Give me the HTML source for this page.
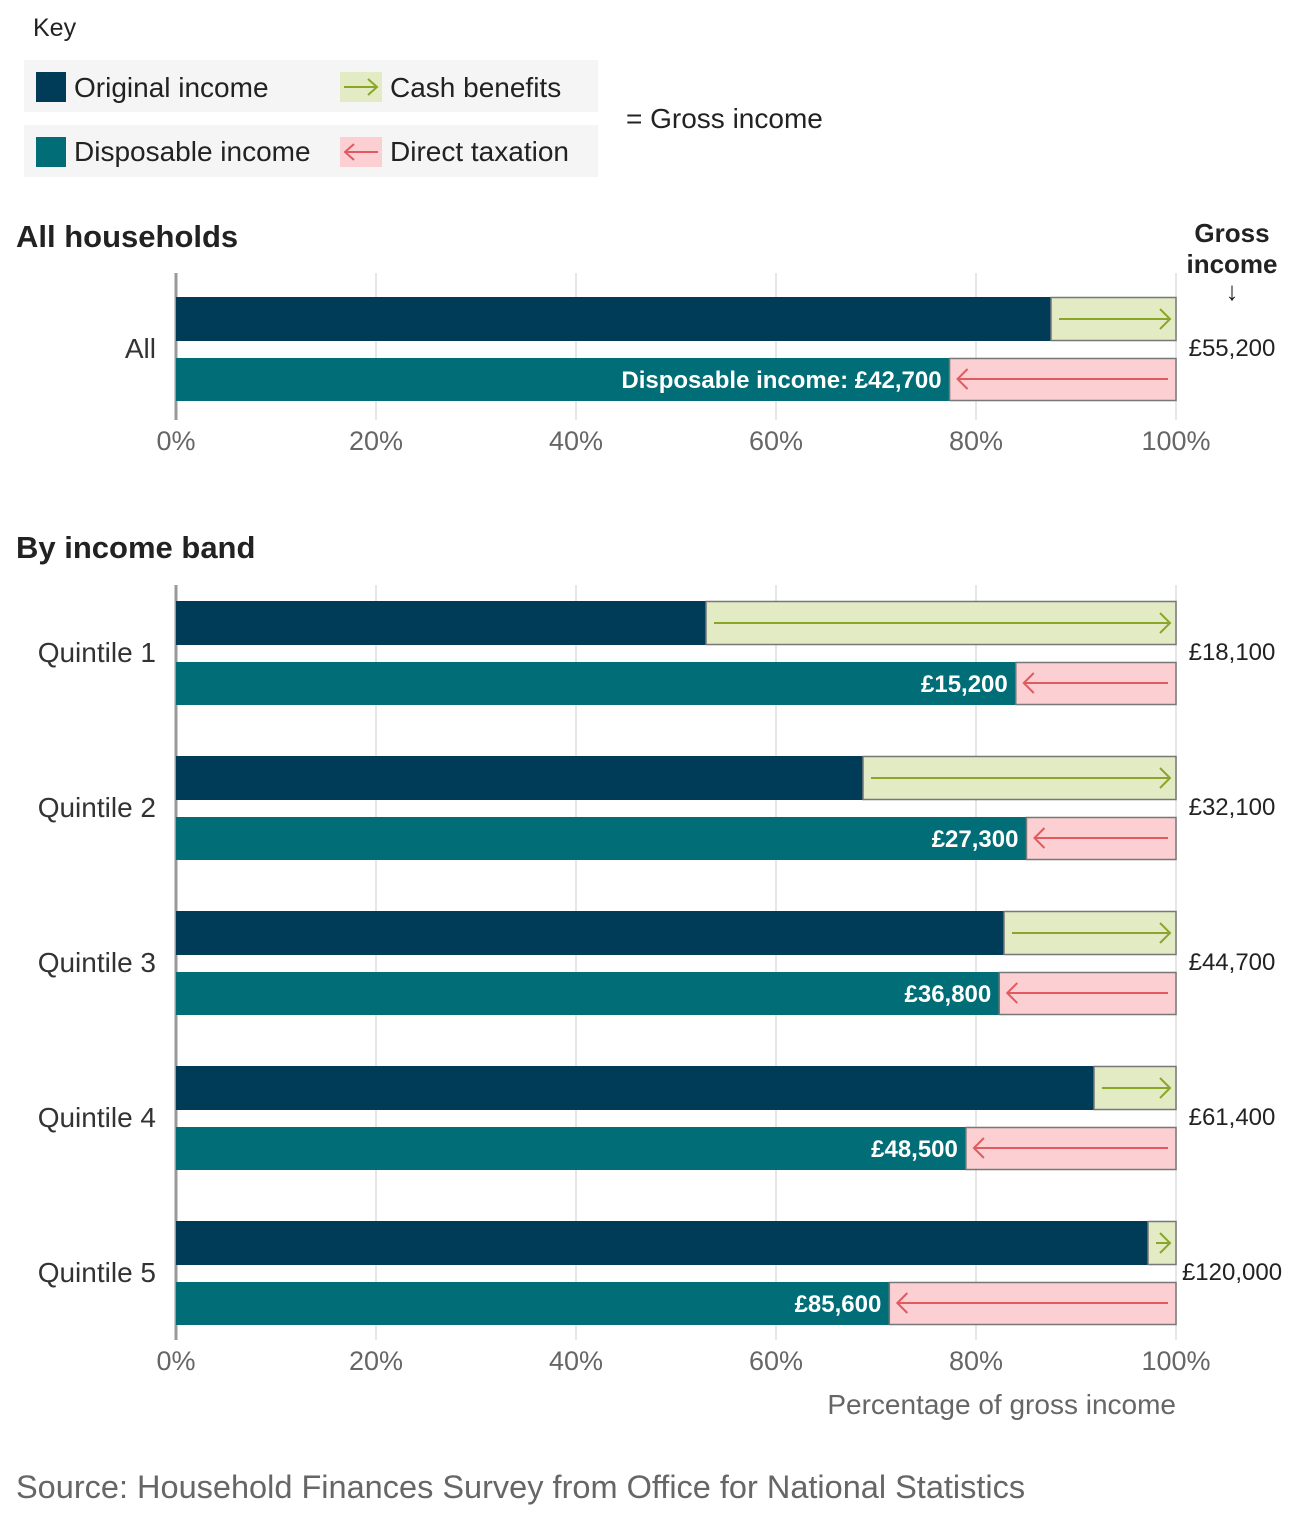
<!DOCTYPE html>
<html><head><meta charset="utf-8"><style>
body{margin:0;background:#fff;font-family:"Liberation Sans","DejaVu Sans",sans-serif;}
svg{display:block}
</style></head><body>
<svg id="chart" width="1312" height="1530" xmlns="http://www.w3.org/2000/svg" font-family="Liberation Sans, DejaVu Sans, sans-serif">
<g>
<text x="33" y="36" font-size="25" fill="#222">Key</text>
<rect x="24" y="60" width="574" height="52" fill="#f5f5f5"/>
<rect x="24" y="125" width="574" height="52" fill="#f5f5f5"/>
<rect x="36" y="72" width="30" height="30" fill="#003c57"/>
<text x="74" y="97" font-size="28" fill="#222">Original income</text>
<rect x="340" y="72" width="42" height="30" fill="#e3ebc5"/>
<line x1="344" y1="87" x2="376" y2="87" stroke="#8aa62a" stroke-width="2"/><polyline points="368,79 377,87 368,95" fill="none" stroke="#8aa62a" stroke-width="2"/>
<text x="390" y="97" font-size="28" fill="#222">Cash benefits</text>
<rect x="36" y="137" width="30" height="30" fill="#006d77"/>
<text x="74" y="161" font-size="28" fill="#222">Disposable income</text>
<rect x="340" y="137" width="42" height="30" fill="#fcd0d2"/>
<line x1="346" y1="152" x2="378" y2="152" stroke="#e05a60" stroke-width="2"/><polyline points="354,144 345,152 354,160" fill="none" stroke="#e05a60" stroke-width="2"/>
<text x="390" y="161" font-size="28" fill="#222">Direct taxation</text>
<text x="626" y="128" font-size="28" fill="#222">= Gross income</text>
</g>
<text x="16" y="247" font-size="31" font-weight="bold" fill="#222">All households</text>
<text x="1232" y="242" font-size="26" font-weight="bold" fill="#222" text-anchor="middle">Gross</text>
<text x="1232" y="273" font-size="26" font-weight="bold" fill="#222" text-anchor="middle">income</text>
<text x="1232" y="300" font-size="26" font-weight="bold" fill="#222" text-anchor="middle">↓</text>
<text x="16" y="558" font-size="31" font-weight="bold" fill="#222">By income band</text>
<g id="topg"></g><g id="bottomg"></g>
<text x="1176" y="1414" font-size="28" fill="#666" text-anchor="end">Percentage of gross income</text>
<text x="16" y="1498" font-size="32.5" fill="#666">Source: Household Finances Survey from Office for National Statistics</text>
</svg>
<script>
const categories=["All","Quintile 1","Quintile 2","Quintile 3","Quintile 4","Quintile 5"];
const originalPct=[87.5,53,68.7,82.8,91.8,97.2];
const disposableVals=[42700,15200,27300,36800,48500,85600];
const grossVals=[55200,18100,32100,44700,61400,120000];
const ticks=[0,20,40,60,80,100];
const NS="http://www.w3.org/2000/svg";
const x0=176,x1=1176;
const xs=p=>x0+(x1-x0)*p/100;
function el(parent,tag,attrs,text){const e=document.createElementNS(NS,tag);for(const k in attrs)e.setAttribute(k,attrs[k]);if(text!==undefined)e.textContent=text;parent.appendChild(e);return e;}
function fmt(v){return "£"+v.toLocaleString("en-GB");}
function axis(g,yTop,yBot,labelY){
 ticks.forEach(t=>{const l=el(g,"line",{x1:xs(t),x2:xs(t),y1:yTop,y2:yBot,stroke:t===0?"#999":"#ddd","stroke-width":t===0?3:1.5});
 
 
 const tx=el(g,"text",{x:xs(t),y:labelY,"font-size":27,fill:"#666","text-anchor":"middle"},t+"%");
 
 });
}
function row(g,i,yo){
 const o=originalPct[i],d=disposableVals[i]/grossVals[i]*100;
 const b1=el(g,"rect",{x:x0,y:yo,width:xs(o)-x0,height:44,fill:"#003c57"});
 
 
 const c=el(g,"rect",{x:xs(o),y:yo+0.5,width:x1-xs(o),height:43,fill:"#e3ebc5",stroke:"#777","stroke-width":1.5});
 
 
 el(g,"line",{x1:xs(o)+8,x2:x1-6,y1:yo+22,y2:yo+22,stroke:"#8aa62a","stroke-width":2});
 el(g,"polyline",{points:`${x1-16},${yo+12} ${x1-6},${yo+22} ${x1-16},${yo+32}`,fill:"none",stroke:"#8aa62a","stroke-width":2});
 const y2=yo+61;
 const b2=el(g,"rect",{x:x0,y:y2,width:xs(d)-x0,height:43,fill:"#006d77"});
 
 
 const t=el(g,"rect",{x:xs(d),y:y2+0.5,width:x1-xs(d),height:42,fill:"#fcd0d2",stroke:"#777","stroke-width":1.5});
 
 
 el(g,"line",{x1:xs(d)+8,x2:x1-8,y1:y2+21,y2:y2+21,stroke:"#e05a60","stroke-width":2});
 el(g,"polyline",{points:`${xs(d)+18},${y2+11} ${xs(d)+8},${y2+21} ${xs(d)+18},${y2+31}`,fill:"none",stroke:"#e05a60","stroke-width":2});
 const lab=el(g,"text",{x:xs(d)-8,y:y2+30,"font-size":24,"font-weight":"bold",fill:"#fff","text-anchor":"end"},(i===0?"Disposable income: ":"")+fmt(disposableVals[i]));
 
 
 const cat=el(g,"text",{x:156,y:yo+61,"font-size":28,fill:"#333","text-anchor":"end"},categories[i]);
 
 
 const gr=el(g,"text",{x:1232,y:yo+59,"font-size":24,fill:"#222","text-anchor":"middle"},fmt(grossVals[i]));
 
 
}
const topG=document.getElementById("topg"),botG=document.getElementById("bottomg");
axis(topG,273,420,450);
row(topG,0,297);
axis(botG,585,1340,1370);
for(let i=1;i<categories.length;i++)row(botG,i,601+(i-1)*155);
</script>
</body></html>
